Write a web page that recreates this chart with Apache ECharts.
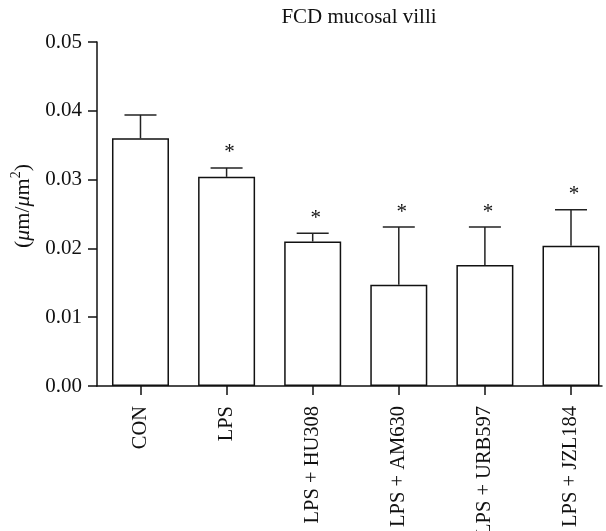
<!DOCTYPE html>
<html>
<head>
<meta charset="utf-8">
<script src="https://cdn.jsdelivr.net/npm/echarts@6/dist/echarts.min.js"></script>
<style>html,body{margin:0;padding:0;background:#fff;}#main{width:606px;height:531px;}</style>
</head>
<body>
<div id="main"></div>
<script>
var categories = ['CON', 'LPS', 'LPS + HU308', 'LPS + AM630', 'LPS + URB597', 'LPS + JZL184'];
var means = [0.0360, 0.0304, 0.0210, 0.0147, 0.0176, 0.0204];
var errors = [0.0034, 0.0013, 0.0012, 0.0084, 0.0055, 0.0052];
var significant = [false, true, true, true, true, true];
var yTicks = [0, 0.01, 0.02, 0.03, 0.04, 0.05];

var FONT = '"Liberation Serif", "DejaVu Serif", serif';
var chart = echarts.init(document.getElementById('main'));

var catIdx = categories.map(function (c, i) { return i; });
var barData = means.map(function (m, i) { return [i, m]; });
var errData = means.map(function (m, i) { return [i, m, m + errors[i], significant[i] ? 1 : 0]; });

chart.setOption({
  animation: false,
  backgroundColor: '#fff',
  title: {
    text: 'FCD mucosal villi',
    left: 354, top: 2, textAlign: 'center',
    textStyle: { fontFamily: FONT, fontSize: 21, fontWeight: 'normal', color: '#111' }
  },
  grid: { left: 97, top: 42, right: 4, bottom: 145, containLabel: false, outerBoundsMode: 'none' },
  xAxis: {
    type: 'value',
    min: -0.505, max: 5.36,
    splitLine: { show: false },
    axisLine: { onZero: false, lineStyle: { color: '#111', width: 1.5 } },
    axisTick: { show: true, customValues: catIdx, length: 9, lineStyle: { color: '#111', width: 1.5 } },
    axisLabel: {
      customValues: catIdx, rotate: 90, margin: 20, fontFamily: FONT, fontSize: 20.5, color: '#111',
      formatter: function (v) { return categories[Math.round(v)]; }
    }
  },
  yAxis: {
    type: 'value',
    min: 0, max: 0.05, interval: 0.01,
    name: '({mu|μ}m/{mu|μ}m{sup|2})',
    nameLocation: 'middle',
    nameGap: 60,
    nameTextStyle: {
      fontFamily: FONT, fontSize: 22, color: '#111',
      padding: [0, 0, 0, 16],
      rich: {
        mu: { fontFamily: FONT, fontSize: 22, fontStyle: 'italic', color: '#111' },
        sup: { fontFamily: FONT, fontSize: 14, color: '#111', verticalAlign: 'top', lineHeight: 28 }
      }
    },
    axisLine: { show: true, onZero: false, lineStyle: { color: '#111', width: 1.5 } },
    axisTick: { show: true, length: 9, lineStyle: { color: '#111', width: 1.5 } },
    splitLine: { show: false },
    axisLabel: {
      margin: 15, fontFamily: FONT, fontSize: 21, color: '#111',
      formatter: function (v) { return v.toFixed(2); }
    }
  },
  series: [
    {
      type: 'bar',
      data: barData,
      barWidth: 57,
      itemStyle: { color: '#fff', borderColor: '#111', borderWidth: 1.5 },
      z: 2
    },
    {
      type: 'custom',
      data: errData,
      z: 3,
      renderItem: function (params, api) {
        var i = api.value(0);
        var base = api.coord([i, api.value(1)]);
        var top = api.coord([i, api.value(2)]);
        var half = 16;
        var children = [
          { type: 'line', shape: { x1: base[0], y1: base[1], x2: top[0], y2: top[1] }, style: { stroke: '#222', lineWidth: 1.5 } },
          { type: 'line', shape: { x1: top[0] - half, y1: top[1], x2: top[0] + half, y2: top[1] }, style: { stroke: '#222', lineWidth: 1.5 } }
        ];
        if (api.value(3)) {
          children.push({
            type: 'text',
            style: { text: '*', x: top[0] + 3, y: top[1] - 15, textAlign: 'center', textVerticalAlign: 'middle', font: '21px ' + FONT, fill: '#111' }
          });
        }
        return { type: 'group', children: children };
      }
    }
  ]
});
</script>
</body>
</html>
